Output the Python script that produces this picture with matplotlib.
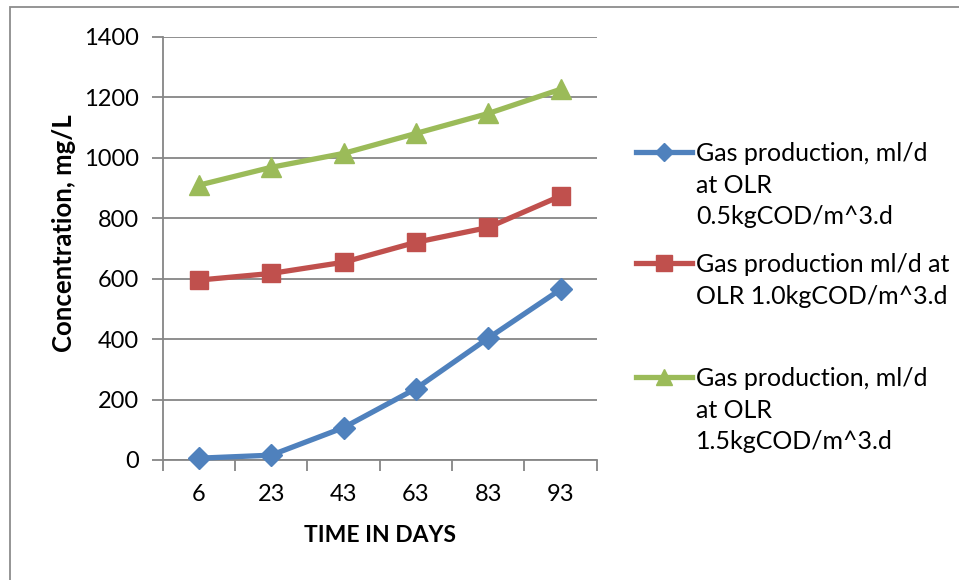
import matplotlib
matplotlib.use("Agg")
import matplotlib.pyplot as plt
from matplotlib.lines import Line2D
from matplotlib.patches import Rectangle

plt.rcParams['font.family'] = ['Lato', 'DejaVu Sans']

days = ["6", "23", "43", "63", "83", "93"]
gas_05 = [6, 16, 107, 236, 403, 564]
gas_10 = [595, 617, 654, 720, 769, 873]
gas_15 = [909, 968, 1014, 1080, 1146, 1226]
y_ticks = [0, 200, 400, 600, 800, 1000, 1200, 1400]

labels = [
    "Gas production, ml/d\nat OLR\n0.5kgCOD/m^3.d",
    "Gas production ml/d at\nOLR 1.0kgCOD/m^3.d",
    "Gas production, ml/d\nat OLR\n1.5kgCOD/m^3.d",
]
colors = ["#4F81BD", "#C0504D", "#9BBB59"]
markers = ["D", "s", "^"]
msizes = [11, 13, 14]

W, H = 959, 580
fig = plt.figure(figsize=(W / 100, H / 100), dpi=100)
fig.patch.set_facecolor("white")

# outer chart frame
fig.patches.append(Rectangle((10 / W, -0.1), 1.2, 1 - 7 / H + 0.1,
                             transform=fig.transFigure, fill=False,
                             edgecolor="#8C8C8C", linewidth=1.3))

ax = fig.add_axes([162.7 / W, 1 - 460 / H, (596.7 - 162.7) / W, (460 - 36.7) / H])
x = list(range(len(days)))
for vals, c, m, ms in zip([gas_05, gas_10, gas_15], colors, markers, msizes):
    ax.plot(x, vals, color=c, marker=m, markersize=ms, linewidth=3.8,
            markeredgecolor=c, clip_on=False, zorder=3)

ax.set_xlim(-0.5, len(days) - 0.5)
ax.set_ylim(0, 1400)
ax.set_yticks(y_ticks)
ax.set_yticklabels([str(v) for v in y_ticks])
ax.yaxis.grid(True, color="#868686", linewidth=1.3)
ax.set_axisbelow(True)

ax.set_xticks([i - 0.5 for i in range(len(days) + 1)])
ax.set_xticklabels([])
ax.set_xticks(x, minor=True)
ax.set_xticklabels(days, minor=True)
ax.tick_params(axis="x", which="major", direction="out", length=8,
               color="#868686", width=1.3)
ax.tick_params(axis="x", which="minor", length=0, labelsize=17, pad=17)
ax.tick_params(axis="y", direction="out", length=8, color="#868686",
               width=1.3, labelsize=17, pad=9)

for s in ["top", "right"]:
    ax.spines[s].set_visible(False)
for s in ["left", "bottom"]:
    ax.spines[s].set_color("#868686")
    ax.spines[s].set_linewidth(1.3)

fig.text(64 / W, 1 - 233 / H, "Concentration, mg/L", rotation=90,
         ha="center", va="center", fontsize=18.5, fontweight="bold")
fig.text(380 / W, 1 - 535 / H, "TIME IN DAYS", ha="center", va="center",
         fontsize=16.5, fontweight="bold")

# legend entries
entry_y = [152, 263, 377]
for lab, c, m, ms, yy in zip(labels, colors, markers, msizes, entry_y):
    yf = 1 - yy / H
    fig.add_artist(Line2D([636 / W, 692 / W], [yf, yf], transform=fig.transFigure,
                          color=c, linewidth=3.8))
    fig.add_artist(Line2D([664 / W], [yf], transform=fig.transFigure,
                          color=c, marker=m, markersize=ms * 0.85,
                          markeredgecolor=c))
    fig.text(696 / W, 1 - (yy - 10) / H, lab, ha="left", va="top",
             fontsize=18, linespacing=1.45)

fig.savefig("out.png", dpi=100)
